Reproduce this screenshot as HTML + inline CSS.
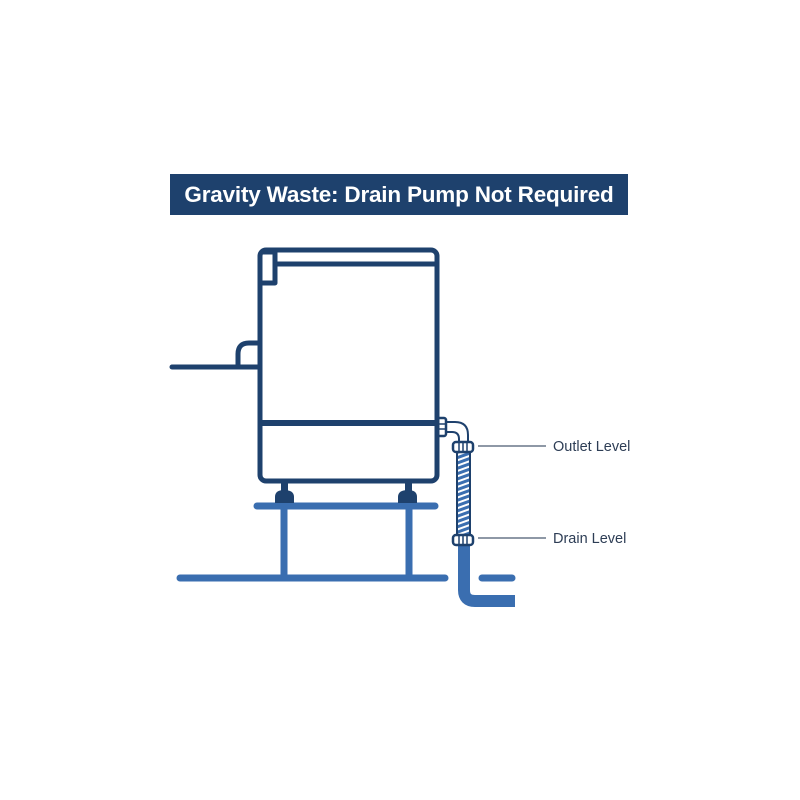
<!DOCTYPE html>
<html><head><style>
html,body{margin:0;padding:0;background:#fff;}
body{width:800px;height:800px;position:relative;overflow:hidden;font-family:"Liberation Sans",sans-serif;}
.banner{position:absolute;left:170px;top:174px;width:458px;height:41px;background:#1e416d;color:#fff;font-weight:bold;font-size:22.5px;line-height:41px;text-align:center;letter-spacing:-0.2px;}
</style></head><body>
<div class="banner">Gravity Waste: Drain Pump Not Required</div>
<svg width="800" height="800" style="position:absolute;left:0;top:0">
<defs>
<pattern id="hose" width="14" height="5" patternUnits="userSpaceOnUse" patternTransform="rotate(-20)">
<rect width="14" height="5" fill="#fff"/><rect width="14" height="3" fill="#3a6eb0"/>
</pattern>
</defs>
<g stroke="#3a6eb0" stroke-linecap="round" fill="none">
<line x1="257" y1="506" x2="435" y2="506" stroke-width="7"/>
<line x1="284" y1="506" x2="284" y2="577" stroke-width="7"/>
<line x1="409" y1="506" x2="409" y2="577" stroke-width="7"/>
<line x1="180" y1="578" x2="445" y2="578" stroke-width="7"/>
<line x1="482" y1="578" x2="512" y2="578" stroke-width="7"/>
</g>
<path d="M464 545 L464 590 Q464 601 475 601 L515 601" stroke="#3a6eb0" stroke-width="12" fill="none"/>
<rect x="457" y="450" width="13" height="88" fill="url(#hose)" stroke="#1e416d" stroke-width="2"/>
<path d="M445 422 L455 422 Q468 422 468 435 L468 446 M445 432 L452 432 Q459 432 459 439 L459 446" stroke="#1e416d" stroke-width="2" fill="none"/>
<rect x="437" y="418" width="9" height="18" rx="2" fill="#fff" stroke="#1e416d" stroke-width="2.5"/>
<line x1="438" y1="424" x2="445" y2="424" stroke="#1e416d" stroke-width="1.5"/>
<line x1="438" y1="429" x2="445" y2="429" stroke="#1e416d" stroke-width="1.5"/>
<rect x="453" y="442" width="20" height="10" rx="3" fill="#fff" stroke="#1e416d" stroke-width="2.5"/>
<rect x="453" y="535" width="20" height="10" rx="3" fill="#fff" stroke="#1e416d" stroke-width="2.5"/>
<g stroke="#1e416d" stroke-width="1.5">
<line x1="459" y1="443" x2="459" y2="451"/><line x1="463" y1="443" x2="463" y2="451"/><line x1="467" y1="443" x2="467" y2="451"/>
<line x1="459" y1="536" x2="459" y2="544"/><line x1="463" y1="536" x2="463" y2="544"/><line x1="467" y1="536" x2="467" y2="544"/>
</g>
<g stroke="#1e416d" fill="none" stroke-width="5" stroke-linejoin="round">
<rect x="260" y="250" width="177" height="231" rx="6"/>
<line x1="275" y1="264" x2="437" y2="264"/>
<path d="M262 252 L275 252 L275 283 L262 283"/>
<line x1="260" y1="423" x2="437" y2="423" stroke-width="6"/>
<line x1="172" y1="367" x2="258" y2="367" stroke-linecap="round"/>
<path d="M238 365 L238 354 Q238 343 249 343 L258 343"/>
</g>
<g fill="#1e416d">
<rect x="281" y="483" width="7" height="10"/>
<path d="M275 503 L275 497 Q275 490 284 490 Q294 490 294 497 L294 503 Z"/>
<rect x="405" y="483" width="7" height="10"/>
<path d="M398 503 L398 497 Q398 490 408 490 Q417 490 417 497 L417 503 Z"/>
</g>
<g stroke="#4a5a70" stroke-width="1.2">
<line x1="478" y1="446" x2="546" y2="446"/>
<line x1="478" y1="538" x2="546" y2="538"/>
</g>
<g font-family="Liberation Sans, sans-serif" font-size="14.5" fill="#2d3d55">
<text x="553" y="451">Outlet Level</text>
<text x="553" y="543">Drain Level</text>
</g>
</svg>
</body></html>
